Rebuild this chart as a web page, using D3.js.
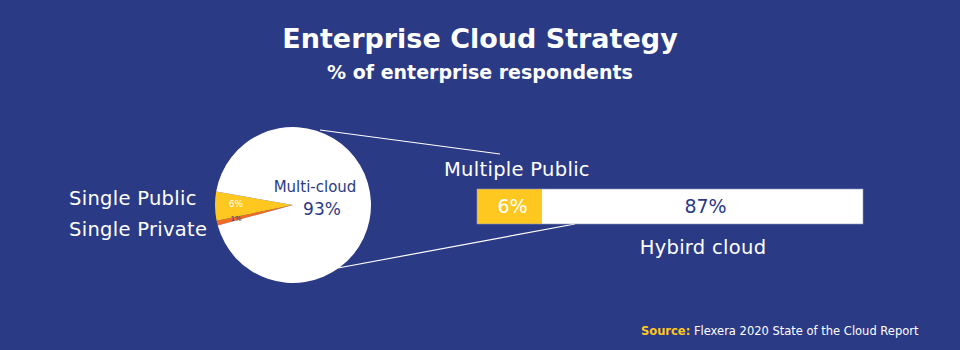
<!DOCTYPE html>
<html>
<head>
<meta charset="utf-8">
<script src="https://cdn.jsdelivr.net/npm/d3@7"></script>
<style>
  html, body { margin: 0; padding: 0; background: #2b3a85; }
  svg { display: block; }
  text { font-family: "DejaVu Sans", "Open Sans", sans-serif; }
</style>
</head>
<body>
<svg id="chart" width="960" height="350"></svg>
<script>
// Overall strategy split (pie)
const strategyLabels = ["Single Private", "Single Public", "Multi-cloud"];
const strategyValues = [1, 6, 93];
const strategyText = ["1%", "6%", "93%"];

// Breakdown of multi-cloud (bar)
const multiLabels = ["Multiple Public", "Hybird cloud"];
const multiValues = [6, 87];
const multiText = ["6%", "87%"];

const BG = "#2b3a85";
const YELLOW = "#ffc820";
const ORANGE = "#f26b21";
const WHITE = "#ffffff";

const svg = d3.select("#chart");

svg.append("rect").attr("width", 960).attr("height", 350).attr("fill", BG);

// Titles
svg.append("text").attr("x", 480).attr("y", 48).attr("text-anchor", "middle")
  .attr("fill", WHITE).attr("font-size", 27).attr("font-weight", 700)
  .text("Enterprise Cloud Strategy");
svg.append("text").attr("x", 480).attr("y", 79).attr("text-anchor", "middle")
  .attr("fill", WHITE).attr("font-size", 19).attr("font-weight", 700)
  .text("% of enterprise respondents");

// Pie
const cx = 293, cy = 205, r = 78;
const startA = 254.7 * Math.PI / 180;
const pie = d3.pie().sort(null).value(d => d)
  .startAngle(startA).endAngle(startA + 2 * Math.PI);
const arcs = pie(strategyValues);
const arc = d3.arc().innerRadius(0).outerRadius(r);
const sliceColors = [ORANGE, YELLOW, WHITE];

// Breakdown bar scale
const barX = d3.scalePow().exponent(0.65)
  .domain([0, d3.sum(multiValues)]).range([477, 863]);
const barY = 189, barH = 35;

// Connector lines from the pie to the breakdown bar
const gLines = svg.append("g").attr("stroke", WHITE).attr("stroke-width", 1.2);
gLines.append("line").attr("x1", 320).attr("y1", 130).attr("x2", 500).attr("y2", 154);
gLines.append("line").attr("x1", 338).attr("y1", 268).attr("x2", 575).attr("y2", barY + barH);

const gPie = svg.append("g").attr("transform", `translate(${cx},${cy})`);
gPie.selectAll("path").data(arcs).join("path")
  .attr("d", arc).attr("fill", (d, i) => sliceColors[i]);

// Labels inside the small slices
gPie.append("text").attr("x", -57).attr("y", 2).attr("text-anchor", "middle")
  .attr("fill", WHITE).attr("font-size", 9).text(strategyText[1]);
gPie.append("text").attr("x", -57).attr("y", 16).attr("text-anchor", "middle")
  .attr("fill", BG).attr("font-size", 7).text(strategyText[0]);

// Multi-cloud label
gPie.append("text").attr("x", 22).attr("y", -13).attr("text-anchor", "middle")
  .attr("fill", BG).attr("font-size", 15).text(strategyLabels[2]);
gPie.append("text").attr("x", 29).attr("y", 10).attr("text-anchor", "middle")
  .attr("fill", BG).attr("font-size", 17).text(strategyText[2]);

// Labels left of the pie
const labelSize = 19.5, labelSpacing = 0.3;
svg.append("text").attr("x", 69).attr("y", 205).attr("fill", WHITE)
  .attr("font-size", labelSize).attr("letter-spacing", labelSpacing).text(strategyLabels[1]);
svg.append("text").attr("x", 69).attr("y", 236).attr("fill", WHITE)
  .attr("font-size", labelSize).attr("letter-spacing", labelSpacing).text(strategyLabels[0]);

// Stacked bar
let acc = 0;
const segs = multiValues.map((v, i) => {
  const s = { x0: barX(acc), x1: barX(acc + v), i };
  acc += v;
  return s;
});
const segColors = [YELLOW, WHITE];
const segText = [WHITE, BG];

svg.append("g").selectAll("rect").data(segs).join("rect")
  .attr("x", d => d.x0).attr("y", barY)
  .attr("width", d => d.x1 - d.x0).attr("height", barH)
  .attr("fill", d => segColors[d.i]);
svg.append("rect").attr("x", barX(0)).attr("y", barY)
  .attr("width", barX(acc) - barX(0)).attr("height", barH)
  .attr("fill", "none").attr("stroke", "#8b96c8").attr("stroke-width", 0.6);

svg.append("g").selectAll("text").data(segs).join("text")
  .attr("x", d => (d.x0 + d.x1) / 2 + 3).attr("y", barY + 24)
  .attr("text-anchor", "middle").attr("font-size", 19)
  .attr("fill", d => segText[d.i]).text(d => multiText[d.i]);

// Bar labels
svg.append("text").attr("x", 444).attr("y", 176).attr("fill", WHITE)
  .attr("font-size", labelSize).attr("letter-spacing", labelSpacing).text(multiLabels[0]);
svg.append("text").attr("x", 703).attr("y", 254).attr("text-anchor", "middle").attr("fill", WHITE)
  .attr("font-size", labelSize).attr("letter-spacing", labelSpacing).text(multiLabels[1]);

// Source note
const src = svg.append("text").attr("x", 641).attr("y", 335).attr("font-size", 11.5);
src.append("tspan").attr("fill", YELLOW).attr("font-weight", 700).text("Source:");
src.append("tspan").attr("fill", WHITE).text(" Flexera 2020 State of the Cloud Report");
</script>
</body>
</html>
